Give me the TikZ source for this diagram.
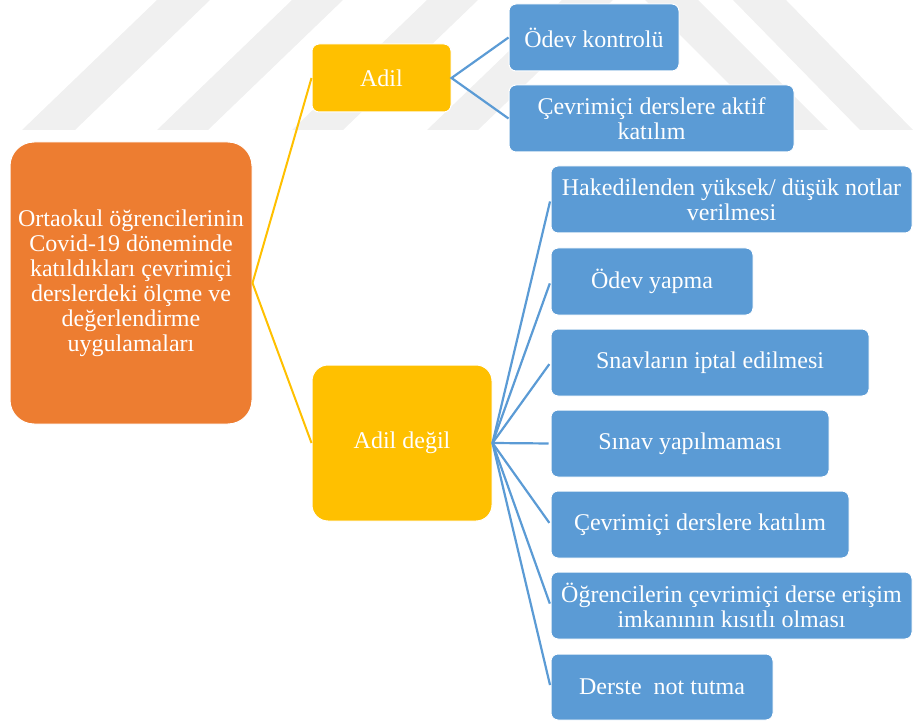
\documentclass[tikz,border=0pt]{standalone}
\usepackage{fontspec}
\setmainfont{Liberation Serif}
\definecolor{rootfill}{RGB}{237,125,49}
\definecolor{midfill}{RGB}{255,192,0}
\definecolor{leaffill}{RGB}{91,155,213}
\definecolor{stripegray}{RGB}{240,240,240}

\tikzset{
  card/.style={rectangle, draw=white, line width=1pt, text=white,
    inner sep=0pt, align=center,
    font=\fontsize{24}{25}\selectfont},
  rootbox/.style={card, fill=rootfill, rounded corners=24pt},
  midbox/.style={card, fill=midfill, rounded corners=7pt},
  leafbox/.style={card, fill=leaffill, rounded corners=7pt, minimum height=67pt},
  goldlink/.style={draw=midfill, line width=2pt},
  bluelink/.style={draw=leaffill, line width=2.2pt},
  stripe/.style={fill=stripegray, draw=none}
}

\begin{document}
\begin{tikzpicture}[x=1pt, y=-1pt]
\useasboundingbox (0,0) rectangle (913,722);

% faint diagonal background stripes
\fill[stripe] (22,130) -- (75,130) -- (210,0) -- (157,0) -- cycle;
\fill[stripe] (157,130) -- (208,130) -- (343,0) -- (292,0) -- cycle;
\fill[stripe] (292,130) -- (343,130) -- (478,0) -- (427,0) -- cycle;
\fill[stripe] (427,130) -- (478,130) -- (613,0) -- (562,0) -- cycle;
\fill[stripe] (645,0) -- (698,0) -- (828,130) -- (775,130) -- cycle;
\fill[stripe] (733,0) -- (786,0) -- (913,130) -- (860,130) -- cycle;

% root
\node[rootbox, minimum width=242pt, minimum height=282pt] (root) at (131,283)
  {Ortaokul öğrencilerinin\\Covid-19 döneminde\\katıldıkları çevrimiçi\\derslerdeki ölçme ve\\değerlendirme\\uygulamaları};

% second level
\node[midbox, minimum width=139pt, minimum height=68pt] (fair) at (381.5,78) {Adil};
\node[midbox, rounded corners=16pt, minimum width=180pt, minimum height=156pt] (unfair) at (402,443) {Adil değil};

% leaves under "Adil"
\node[leafbox, minimum width=170pt] (f1) at (594,37.5) {Ödev kontrolü};
\node[leafbox, minimum width=285pt] (f2) at (651.5,118.5) {Çevrimiçi derslere aktif\\katılım};

% leaves under "Adil değil"
\node[leafbox, minimum width=361pt] (u1) at (731.5,199.5) {Hakedilenden yüksek/ düşük notlar\\verilmesi};
\node[leafbox, minimum width=202pt] (u2) at (652,281.5) {Ödev yapma};
\node[leafbox, minimum width=318pt] (u3) at (710,362.5) {Snavların iptal edilmesi};
\node[leafbox, minimum width=278pt] (u4) at (690,443.5) {Sınav yapılmaması};
\node[leafbox, minimum width=298pt] (u5) at (700,524.5) {Çevrimiçi derslere katılım};
\node[leafbox, minimum width=361pt] (u6) at (731.5,605.5) {Öğrencilerin çevrimiçi derse erişim\\imkanının kısıtlı olması};
\node[leafbox, minimum width=222pt, minimum height=66pt] (u7) at (662,687) {Derste\ \ not tutma};

% connectors
\draw[goldlink] (fair.west) -- (root.east) -- (unfair.west);
\draw[bluelink] (f1.west) -- (fair.east) -- (f2.west);
\foreach \leaf in {u1,u2,u3,u4,u5,u6,u7}
  \draw[bluelink, shorten >=2pt] (unfair.east) -- (\leaf.west);
\end{tikzpicture}
\end{document}
